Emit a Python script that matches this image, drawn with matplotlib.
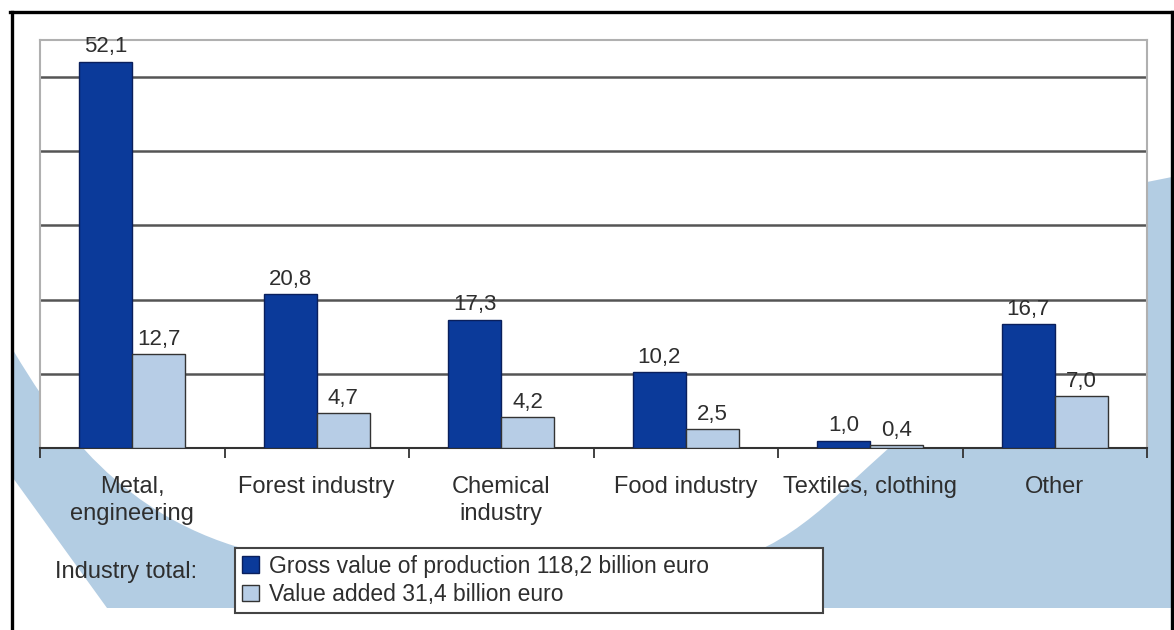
import matplotlib.pyplot as plt
import numpy as np
from matplotlib.path import Path
from matplotlib.patches import PathPatch, Patch
from matplotlib.lines import Line2D

plt.rcParams['font.family'] = ['Liberation Sans', 'DejaVu Sans']

##### Data ######
categories = ["Metal,\nengineering", "Forest industry", "Chemical\nindustry",
              "Food industry", "Textiles, clothing", "Other"]
gross_value = [52.1, 20.8, 17.3, 10.2, 1.0, 16.7]   # billion euro
value_added = [12.7, 4.7, 4.2, 2.5, 0.4, 7.0]       # billion euro
legend_labels = ["Gross value of production 118,2 billion euro",
                 "Value added 31,4 billion euro"]
total_label = "Industry total:"
#################

DARK = "#0b3a9a"
LIGHT = "#b7cde6"
SWOOSH = "#b3cde3"
TEXT = "#2e2e2e"

W, H = 1174, 630
fig = plt.figure(figsize=(W / 100, H / 100), dpi=100)
fig.patch.set_facecolor("white")


def fxy(x, y):
    # pixel position (y from top) -> figure fraction
    return (x / W, 1 - y / H)


# light blue band in the background
verts = [(13, 350), (55, 420), (120, 520), (260, 553),
         (700, 565),
         (780, 560), (830, 500), (890, 447),
         (1147, 182), (1172, 177), (1172, 608), (107, 608), (13, 478), (13, 350)]
codes = [Path.MOVETO, Path.CURVE4, Path.CURVE4, Path.CURVE4,
         Path.LINETO,
         Path.CURVE4, Path.CURVE4, Path.CURVE4,
         Path.LINETO, Path.LINETO, Path.LINETO, Path.LINETO, Path.LINETO, Path.CLOSEPOLY]
band = PathPatch(Path([fxy(*v) for v in verts], codes), facecolor=SWOOSH,
                 edgecolor="none", transform=fig.transFigure, zorder=0)
fig.patches.append(band)

# black frame (top, left, right)
for xs, ys in [((10, 1173), (11.5, 11.5)), ((11.5, 11.5), (11.5, 630)), ((1172, 1172), (11.5, 630))]:
    p0, p1 = fxy(xs[0], ys[0]), fxy(xs[1], ys[1])
    fig.add_artist(Line2D([p0[0], p1[0]], [p0[1], p1[1]], color="black", lw=2.4,
                          transform=fig.transFigure, zorder=5))

left, top = fxy(40, 40)
right, bottom = fxy(1147, 448)
ax = fig.add_axes([left, bottom, right - left, top - bottom])
ax.set_facecolor("white")
ax.set_zorder(2)

x = np.arange(len(categories))
w = 0.288
b1 = ax.bar(x - w / 2, gross_value, w, color=DARK, edgecolor="#0a1f5c", lw=1.0, zorder=3)
b2 = ax.bar(x + w / 2, value_added, w, color=LIGHT, edgecolor="#333333", lw=1.0, zorder=3)

for bars, vals in [(b1, gross_value), (b2, value_added)]:
    ax.bar_label(bars, labels=[f"{v:.1f}".replace(".", ",") for v in vals],
                 padding=3, fontsize=16, color=TEXT)

ax.set_xlim(-0.5, len(categories) - 0.5)
ax.set_ylim(0, 55)
ax.set_yticks([10, 20, 30, 40, 50])
ax.yaxis.grid(True, color="#555555", lw=1.8, zorder=1)
ax.tick_params(axis="y", left=False, labelleft=False)

ax.set_xticks(x)
ax.set_xticklabels(categories, fontsize=17, color=TEXT, linespacing=1.3)
ax.tick_params(axis="x", which="major", length=0, pad=20)
ax.set_xticks(np.arange(-0.5, len(categories)), minor=True)
ax.tick_params(axis="x", which="minor", length=7, width=1.3, color="#333333")

for side in ["top", "left", "right"]:
    ax.spines[side].set_color("#b0b0b0")
    ax.spines[side].set_linewidth(1.5)
ax.spines["bottom"].set_color("#333333")
ax.spines["bottom"].set_linewidth(1.5)

# legend below the chart
handles = [Patch(facecolor=DARK, edgecolor="#0a1f5c"),
           Patch(facecolor=LIGHT, edgecolor="#333333")]
lx0, ly1 = fxy(235, 548)
lx1, ly0 = fxy(823, 612)
leg = fig.legend(handles, legend_labels, loc="upper left",
                 bbox_to_anchor=(lx0, ly0, lx1 - lx0, ly1 - ly0), mode="expand",
                 fontsize=16.5, frameon=True, fancybox=False, borderaxespad=0,
                 borderpad=0.3, labelspacing=0.22, handlelength=0.75, handleheight=0.75,
                 handletextpad=0.45, labelcolor=TEXT, framealpha=1)
leg.get_frame().set_facecolor("white")
leg.get_frame().set_edgecolor("#444444")
leg.get_frame().set_linewidth(1.5)
leg.set_zorder(6)

tx, ty = fxy(55, 572)
fig.text(tx, ty, total_label, fontsize=17, color=TEXT, ha="left", va="center")

fig.savefig("out.png", dpi=100)
